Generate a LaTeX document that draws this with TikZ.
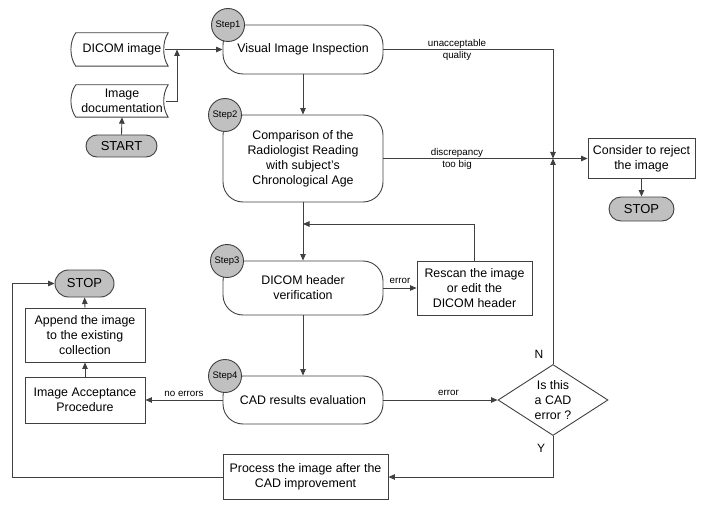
\documentclass[tikz,border=0pt]{standalone}
\usepackage{fontspec}
\setmainfont{Liberation Sans}
\usetikzlibrary{arrows.meta,shapes.geometric,shapes.misc}
\definecolor{lc}{HTML}{404040}
\definecolor{gf}{HTML}{C0C0C0}
\begin{document}
\begin{tikzpicture}[x=1pt,y=-1pt,
  every node/.style={font=\fontsize{12.4}{15}\selectfont, text=black, inner sep=0pt, align=center},
  line/.style={draw=lc, line width=0.9pt},
  arr/.style={line, -{Triangle[length=6.5pt,width=5.5pt]}},
  stepbox/.style={line, rectangle, rounded corners=20pt, minimum width=160pt},
  stepcirc/.style={line, circle, fill=gf, minimum size=33pt, font=\fontsize{9.5}{11}\selectfont},
  term/.style={line, rounded rectangle, fill=gf, font=\fontsize{13}{15}\selectfont},
  box/.style={line, rectangle},
  lab/.style={font=\fontsize{9.8}{12}\selectfont},
  yn/.style={font=\fontsize{12}{14}\selectfont},
]
\useasboundingbox (0,0) rectangle (707,508);

% step boxes
\node[stepbox, minimum height=49pt] (s1) at (303,49.5) {Visual Image Inspection};
\node[stepbox, minimum height=87pt] (s2) at (303,158.5) {Comparison of the\\Radiologist Reading\\with subject's\\Chronological Age};
\node[stepbox, minimum height=54pt] (s3) at (303,288) {DICOM header\\verification};
\node[stepbox, minimum height=48pt] (s4) at (303,400) {CAD results evaluation};
\node[stepcirc] (c1) at (228,25) {Step1};
\node[stepcirc] (c2) at (225,115) {Step2};
\node[stepcirc] (c3) at (227,261) {Step3};
\node[stepcirc] (c4) at (225,376) {Step4};

% documents
\node[minimum width=92pt, minimum height=33pt] (dicom) at (122,49.5) {DICOM image};
\draw[line] (dicom.north west) .. controls +(-6.5,9) and +(-6.5,-9) .. (dicom.south west)
  -- (dicom.south east) .. controls +(-6,-9) and +(-6,9) .. (dicom.north east) -- cycle;
\node[minimum width=92pt, minimum height=32pt] (doc) at (122,101) {Image\\documentation};
\draw[line] (doc.north west) .. controls +(-6.5,9) and +(-6.5,-9) .. (doc.south west)
  -- (doc.south east) .. controls +(-6,-9) and +(-6,9) .. (doc.north east) -- cycle;

% terminals
\node[term, minimum width=71pt, minimum height=22pt] (start) at (121.5,146) {START};
\node[term, minimum width=65pt, minimum height=24pt] (stop1) at (641.5,209) {STOP};
\node[term, minimum width=59pt, minimum height=27pt] (stop2) at (84.5,283.5) {STOP};

% process boxes
\node[box, minimum width=107pt, minimum height=40pt] (rej) at (641.5,158.5) {Consider to reject\\the image};
\node[box, minimum width=115pt, minimum height=54pt] (resc) at (474.5,288) {Rescan the image\\or edit the\\DICOM header};
\node[box, minimum width=120pt, minimum height=54pt] (app) at (85,335) {Append the image\\to the existing\\collection};
\node[box, minimum width=120pt, minimum height=46pt] (acc) at (85,400) {Image Acceptance\\Procedure};
\node[box, minimum width=165pt, minimum height=45pt] (proc) at (305.5,477) {Process the image after the\\CAD improvement};

% decision
\node[line, diamond, minimum width=110pt, minimum height=71pt] (dia) at (553,400) {};
\node (diat) at (553,400) {Is this\\a CAD\\error ?};
\node[yn] (nlab) at (539,354) {N};
\node[yn] (ylab) at (541,448) {Y};

% junction points
\coordinate (dicomR) at (165,49.5);
\coordinate (docR) at (166,101);
\coordinate (j1) at (177,49.5);
\coordinate (j2) at (553,158.5);
\coordinate (j3) at (303,224);

% connectors
\draw[arr] (dicomR) -- (s1.west);
\draw[arr] (docR) -| (j1);
\draw[arr] (start.north) -- (doc.south);
\draw[arr] (s1.south) -- (s2.north);
\draw[arr] (s1.east) -| (j2);
\draw[arr] (s2.east) -- (rej.west);
\draw[arr] (dia.north) -- (j2);
\draw[arr] (rej.south) -- (stop1.north);
\draw[arr] (s2.south) -- (s3.north);
\draw[arr] (resc.north) |- (j3);
\draw[arr] (s3.east) -- node[lab, above=3.5pt] (e1) {error} (resc.west);
\draw[arr] (s3.south) -- (s4.north);
\draw[arr] (s4.west) -- node[lab, above=3pt] (ne) {no errors} (acc.east);
\draw[arr] (acc.north) -- (app.south);
\draw[arr] (app.north) -- (stop2.south);
\draw[arr] (s4.east) -- node[lab, above=3.5pt, pos=0.57] (e2) {error} (dia.west);
\draw[arr] (dia.south) |- (proc.east);
\draw[arr] (proc.west) -- ++(-210,0) |- (stop2.west);

% connector labels
\node[lab] (l1) at (457,50) {unacceptable\\quality};
\node[lab] (l2) at (457,158.5) {discrepancy\\too big};
\end{tikzpicture}
\end{document}
